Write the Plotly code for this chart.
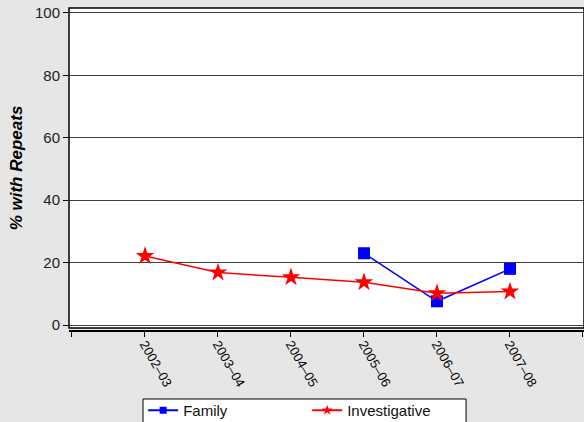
import plotly.graph_objects as go

categories = ["2002–03", "2003–04", "2004–05", "2005–06", "2006–07", "2007–08"]
family = [None, None, None, 23.0, 7.6, 18.0]
investigative = [22.1, 16.8, 15.3, 13.7, 10.2, 10.7]
y_ticks = [0, 20, 40, 60, 80, 100]

xpos = list(range(1, len(categories) + 1))
tickvals = [0] + xpos + [len(categories) + 1]
ticktext = [""] + categories + [""]

BLUE = "#0000ff"
RED = "#ff0000"

fig = go.Figure()
fig.add_trace(go.Scatter(
    x=xpos, y=family, name="Family", mode="lines+markers",
    line=dict(color=BLUE, width=1.5),
    marker=dict(symbol="square", size=12, color=BLUE),
    showlegend=False,
))
fig.add_trace(go.Scatter(
    x=xpos, y=investigative, name="Investigative", mode="lines+markers",
    line=dict(color=RED, width=1.5),
    marker=dict(symbol="star", size=14, color=RED),
    showlegend=False,
))
# legend entries with small markers
fig.add_trace(go.Scatter(
    x=[None], y=[None], name="Family", mode="lines+markers",
    line=dict(color=BLUE, width=2), marker=dict(symbol="square", size=7, color=BLUE),
))
fig.add_trace(go.Scatter(
    x=[None], y=[None], name="Investigative", mode="lines+markers",
    line=dict(color=RED, width=2), marker=dict(symbol="star", size=8, color=RED),
))

fig.update_layout(
    width=584, height=422,
    margin=dict(l=69, r=0, t=8, b=91, autoexpand=False),
    paper_bgcolor="#e6e6e6",
    plot_bgcolor="#ffffff",
    font=dict(family="Liberation Sans, Arial, sans-serif", color="#222222"),
    showlegend=True,
    legend=dict(
        orientation="h", x=0.144, xanchor="left", y=-0.195, yanchor="top",
        bgcolor="rgba(0,0,0,0)", borderwidth=0,
        font=dict(size=15, color="#111111"),
        entrywidth=119, entrywidthmode="pixels",
    ),
    xaxis=dict(
        range=[-0.041, 7.014],
        tickmode="array", tickvals=tickvals, ticktext=ticktext,
        tickangle=60, tickfont=dict(size=13, color="#000000"),
        ticklabelstandoff=-5,
        showgrid=False, zeroline=False,
        showline=True, linecolor="#000000", linewidth=1.5,
        ticks="outside", ticklen=5, tickcolor="#000000",
        anchor="free", position=0,
    ),
    yaxis=dict(
        domain=[0.0093, 1],
        range=[-0.96, 101.6],
        tickmode="array", tickvals=y_ticks,
        tickfont=dict(size=15, color="#222222"),
        showgrid=True, gridcolor="#404040", gridwidth=1.4,
        zeroline=False, showline=False,
        ticks="outside", ticklen=5, tickcolor="#000000",
        title=dict(text="<b><i>% with Repeats</i></b>", font=dict(size=17, color="#000000"), standoff=8),
    ),
    shapes=[
        dict(
            type="rect", xref="x domain", yref="y domain",
            x0=0, x1=1, y0=0, y1=1,
            line=dict(color="#000000", width=1.5), layer="above",
        ),
        dict(
            type="rect", xref="paper", yref="paper",
            x0=0.1437, x1=0.771, y0=-0.31, y1=-0.2105,
            fillcolor="#ffffff", line=dict(color="#000000", width=1), layer="below",
        ),
    ],
)

fig.write_html(
    "out.html",
    config={"displayModeBar": False},
    post_script="document.body.style.margin='0';document.body.style.background='#e6e6e6';",
)
